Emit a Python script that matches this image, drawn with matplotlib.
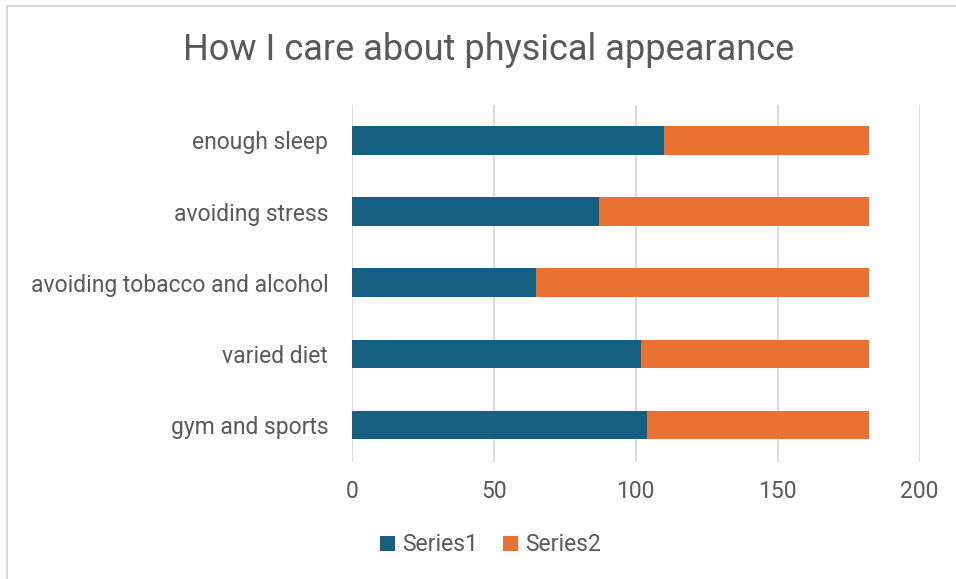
import matplotlib.pyplot as plt
from matplotlib.lines import Line2D

# Data
categories = ["gym and sports", "varied diet", "avoiding tobacco and alcohol",
              "avoiding stress", "enough sleep"]
series1 = [104, 102, 65, 87, 110]
series2 = [78, 80, 117, 95, 72]

blue = "#156082"
orange = "#E97132"
text_col = "#595959"
grid_col = "#D9D9D9"

plt.rcParams['font.family'] = ['Roboto', 'DejaVu Sans']

fig = plt.figure(figsize=(9.56, 5.79), dpi=100)
ax = fig.add_axes([0.368, 0.202, 0.594, 0.617])

y = range(len(categories))
ax.barh(y, series1, height=0.4, color=blue, label="Series1", zorder=3)
ax.barh(y, series2, left=series1, height=0.4, color=orange, label="Series2", zorder=3)

ax.set_xlim(0, 200)
ax.set_ylim(-0.52, 4.5)
ax.set_xticks([0, 50, 100, 150, 200])
ax.set_yticks(list(y))
ax.set_yticklabels(categories)
ax.tick_params(axis='both', length=0, labelsize=16.5, labelcolor=text_col)
ax.tick_params(axis='x', pad=13)
ax.tick_params(axis='y', pad=17)
ax.grid(axis='x', color=grid_col, linewidth=1.3, zorder=0)
for s in ax.spines.values():
    s.set_visible(False)

fig.text(0.511, 0.913, "How I care about physical appearance", ha='center', va='center',
         fontsize=26, color=text_col)

ax.legend(loc='center', bbox_to_anchor=((0.513 - 0.368) / 0.594, -0.232),
          ncol=2, frameon=False, fontsize=16.5, labelcolor=text_col,
          handlelength=0.65, handleheight=0.65, handletextpad=0.3, columnspacing=1.1)

# chart border (left and top only visible)
fig.add_artist(Line2D([0.007, 0.007], [0, 0.99], color=grid_col, linewidth=1.5))
fig.add_artist(Line2D([0.007, 1], [0.99, 0.99], color=grid_col, linewidth=1.5))

fig.savefig("out.png", dpi=100)
